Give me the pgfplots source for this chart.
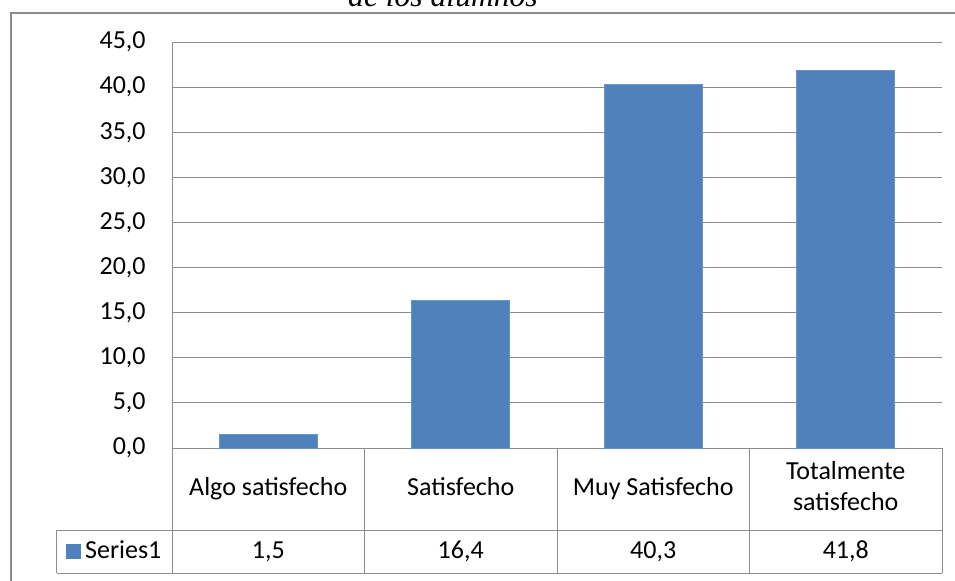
\documentclass[border=0pt]{standalone}
\usepackage{pgfplots}
\pgfplotsset{compat=1.18}
\usepackage{pgfplotstable}
\usepackage{fontspec}
\setmainfont{Carlito}
\newfontfamily\titlefont{Liberation Serif}
\definecolor{barblue}{HTML}{4F81BD}
\definecolor{linegray}{HTML}{8C8C8C}
\newcommand\cf{\fontsize{13}{15.6}\selectfont}

% satisfaction levels, percent
\pgfplotstableread{
x v zero
0 1.5 0
1 16.4 0
2 40.3 0
3 41.8 0
}\satis

\begin{document}
\begin{tikzpicture}
\begin{axis}[
    scale only axis,
    width=385pt, height=203pt,
    xmin=-0.5, xmax=3.5,
    ymin=0, ymax=45,
    ytick distance=5,
    xtick=data,
    xticklabels={\strut Algo satisfecho, \strut Satisfecho, \strut Muy Satisfecho, {\strut Totalmente\\\strut satisfecho}},
    x tick label style={font=\cf, align=center, anchor=center, yshift=-20.5pt, inner sep=0pt},
    y tick label style={font=\cf, anchor=east, inner sep=0pt, xshift=-13pt},
    major tick length=0pt,
    axis lines*=left,
    axis line style={draw=linegray, line width=0.5pt},
    ymajorgrids,
    grid style={draw=linegray, line width=0.5pt},
    clip=false,
    legend style={at={(-0.1377,-0.2549)}, anchor=west, draw=none, fill=none,
                  font=\cf, inner sep=0pt, legend cell align=left},
    /pgf/number format/use comma,
    /pgf/number format/fixed,
    /pgf/number format/fixed zerofill,
    /pgf/number format/precision=1,
    /pgf/number format/assume math mode=true,
  ]
\addplot[ybar, bar width=49pt, fill=barblue, draw=barblue!85!white,
    legend image code/.code={\fill[barblue] (0pt,-3.5pt) rectangle (7pt,3.5pt);}]
    table[x=x, y=v]{\satis};
\addlegendentry{Series1}
% values in the data table row
\addplot[draw=none, mark=none, forget plot, nodes near coords, point meta=explicit,
    nodes near coords style={font=\cf, anchor=center, yshift=-51.75pt, inner sep=0pt}]
    table[x=x, y=zero, meta=v]{\satis};

% data table grid
\draw[linegray, line width=0.5pt]
  (axis cs:-0.5,0) -- (axis cs:-0.5,-13.8547)
  (axis cs:0.5,0) -- (axis cs:0.5,-13.8547)
  (axis cs:1.5,0) -- (axis cs:1.5,-13.8547)
  (axis cs:2.5,0) -- (axis cs:2.5,-13.8547)
  (axis cs:3.5,0) -- (axis cs:3.5,-13.8547)
  (axis cs:-1.0974,-9.0887) -- (axis cs:3.5,-9.0887)
  (axis cs:-1.0974,-13.8547) -- (axis cs:3.5,-13.8547)
  (axis cs:-1.0974,-9.0887) -- (axis cs:-1.0974,-13.8547);
% chart frame
\draw[linegray, line width=1pt] (axis cs:-1.3364,48.214) rectangle (axis cs:3.7,-16);
\node[anchor=base, font=\titlefont\itshape\fontsize{15.8}{19}\selectfont]
  at (axis cs:0.9078,48.99) {de los alumnos};
\coordinate (bbsw) at (axis cs:-1.39351,-14.6305);
\coordinate (bbne) at (axis cs:3.56753,49.6552);
\end{axis}
\pgfresetboundingbox
\useasboundingbox (bbsw) rectangle (bbne);
\end{tikzpicture}
\end{document}
